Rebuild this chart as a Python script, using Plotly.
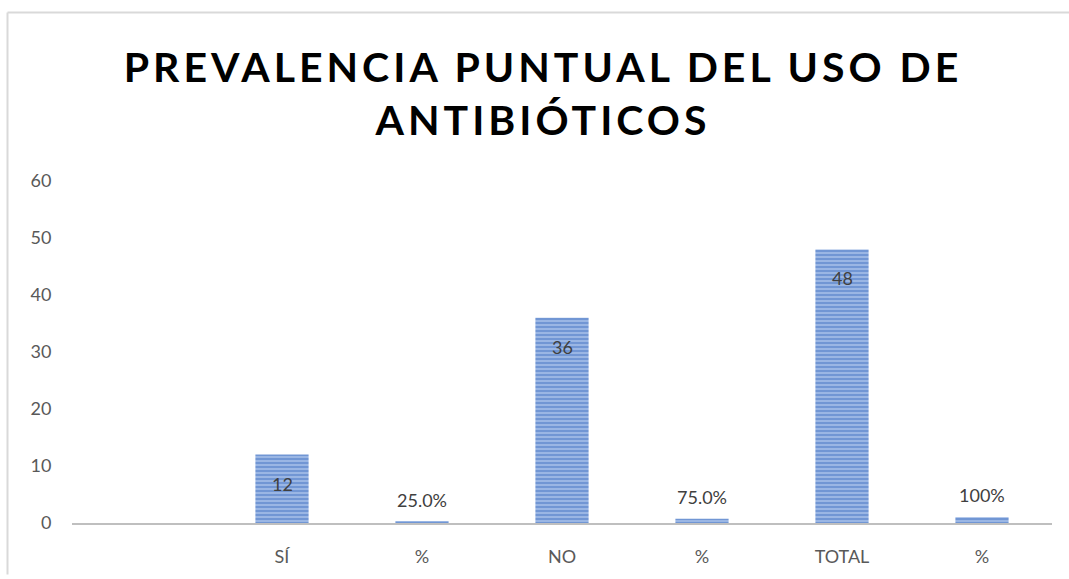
import plotly.graph_objects as go

categories = ["", "SÍ", "%", "NO", "%", "TOTAL", "%"]
values = [None, 12, 0.25, 36, 0.75, 48, 1]
labels = ["", "12", "25.0%", "36", "75.0%", "48", "100%"]
label_inside = [False, True, False, True, False, True, False]

x = list(range(len(categories)))

FONT = "Lato, Open Sans, sans-serif"

fig = go.Figure()
fig.add_trace(go.Bar(
    x=x, y=values, width=0.38,
    marker=dict(
        color="#9DB9E6",
        line=dict(width=0),
        pattern=dict(shape="-", fgcolor="#3E6EC0", bgcolor="#A4BEE8", size=4, solidity=0.6),
    ),
    hoverinfo="skip",
))

annotations = []
for xi, v, lab, ins in zip(x, values, labels, label_inside):
    if v is None or not lab:
        continue
    annotations.append(dict(
        x=xi, y=v, xref="x", yref="y", text=lab, showarrow=False,
        yanchor="middle", yshift=-29 if ins else 22,
        font=dict(family=FONT, size=18, color="#404040"),
    ))

W, H = 1069, 579
L, R, T, B = 72, 17, 181, 52
pw, ph = W - L - R, H - T - B

def px2x(p):
    return (p - L) / pw

def py2y(p):
    return (H - B - p) / ph

shapes = [
    dict(type="line", xref="paper", yref="paper", x0=px2x(7.5), x1=px2x(7.5),
         y0=py2y(10.5), y1=py2y(579), line=dict(color="#D9D9D9", width=2)),
    dict(type="line", xref="paper", yref="paper", x0=px2x(7.5), x1=px2x(1069),
         y0=py2y(10.5), y1=py2y(10.5), line=dict(color="#D9D9D9", width=2)),
]

title_text = ("<span style='letter-spacing:4px'>PREVALENCIA PUNTUAL DEL USO DE</span><br>"
              "<span style='letter-spacing:4px'>ANTIBIÓTICOS</span>")

fig.update_layout(
    width=W, height=H,
    margin=dict(l=L, r=R, t=T, b=B),
    paper_bgcolor="white", plot_bgcolor="white",
    showlegend=False,
    title=dict(
        text=title_text,
        x=543 / W, xanchor="center", y=1 - 82 / H, yanchor="middle", yref="container",
        font=dict(family=FONT, size=41, color="#000000", weight="bold"),
    ),
    xaxis=dict(
        tickmode="array", tickvals=x, ticktext=categories,
        range=[-0.5, len(categories) - 0.5],
        showgrid=False, zeroline=False,
        showline=True, linecolor="#BFBFBF", linewidth=2,
        ticks="outside", ticklen=16, tickcolor="rgba(0,0,0,0)",
        tickfont=dict(family=FONT, size=18, color="#595959"),
    ),
    yaxis=dict(
        range=[0, 60], tickmode="array", tickvals=[0, 10, 20, 30, 40, 50, 60],
        showgrid=False, zeroline=False, showline=False,
        ticks="outside", ticklen=16, tickcolor="rgba(0,0,0,0)",
        tickfont=dict(family=FONT, size=18, color="#595959"),
    ),
    annotations=annotations,
    shapes=shapes,
)

fig.write_html("out.html", config={"displayModeBar": False},
               post_script="document.body.style.margin='0';")
